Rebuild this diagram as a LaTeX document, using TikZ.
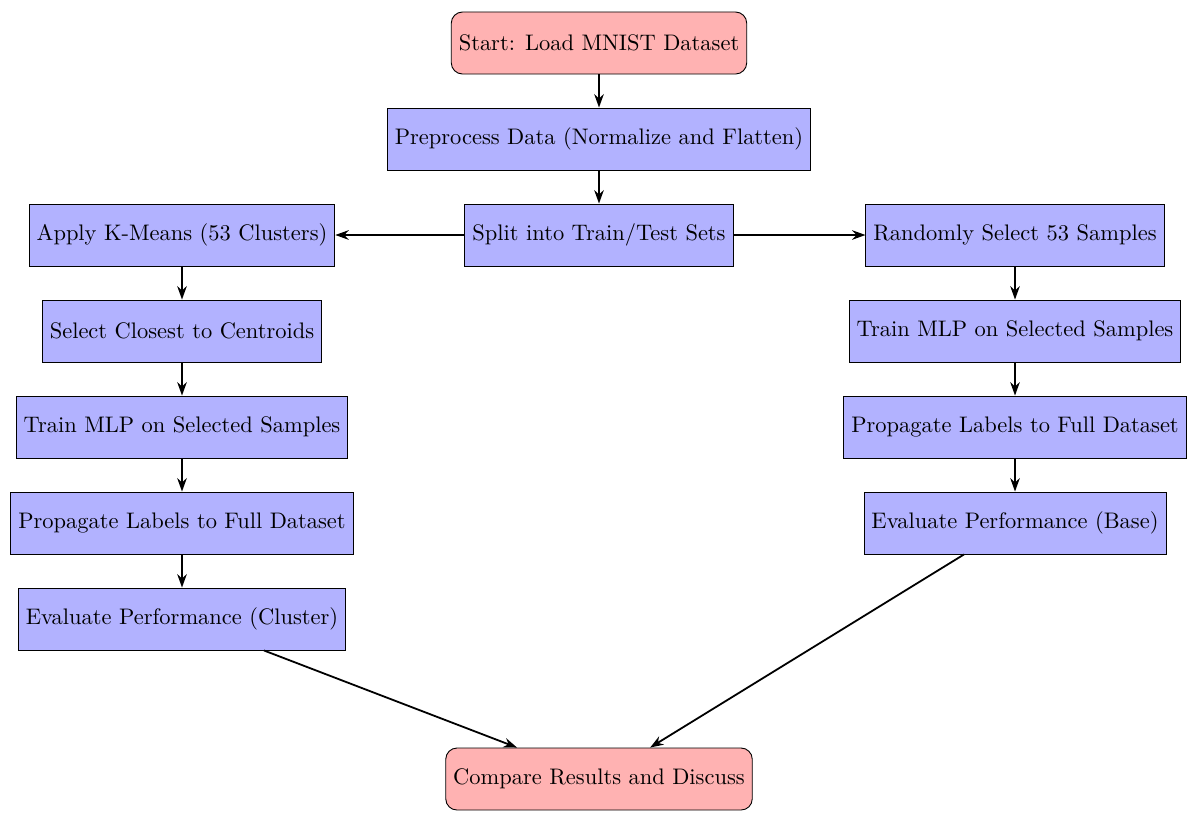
\documentclass[tikz,border=0pt]{standalone}
\usetikzlibrary{arrows.meta}
\begin{document}
\begin{tikzpicture}[x=0.445pt,y=-0.445pt,
  startstop/.style={rectangle, rounded corners=5pt, draw=black, fill=red!30, minimum height=27.6pt, align=center},
  process/.style={rectangle, draw=black, fill=blue!30, minimum height=27.6pt, align=center},
  arrow/.style={thick, -{Stealth[length=2.1mm,width=1.5mm]}}]
\useasboundingbox (0,0) rectangle (1197,825);
\node[startstop] (start) at (599,43) {Start: Load MNIST Dataset};
\node[process] (pre) at (599,139) {Preprocess Data (Normalize and Flatten)};
\node[process] (split) at (599,235) {Split into Train/Test Sets};
\node[process] (km) at (182,235) {Apply K-Means (53 Clusters)};
\node[process] (sel) at (182,331) {Select Closest to Centroids};
\node[process] (trainL) at (182,427) {Train MLP on Selected Samples};
\node[process] (propL) at (182,523) {Propagate Labels to Full Dataset};
\node[process] (evalL) at (182,619) {Evaluate Performance (Cluster)};
\node[process] (rand) at (1015,235) {Randomly Select 53 Samples};
\node[process] (trainR) at (1015,331) {Train MLP on Selected Samples};
\node[process] (propR) at (1015,427) {Propagate Labels to Full Dataset};
\node[process] (evalR) at (1015,523) {Evaluate Performance (Base)};
\node[startstop] (cmp) at (599,779) {Compare Results and Discuss};
\draw[arrow] (start) -- (pre);
\draw[arrow] (pre) -- (split);
\draw[arrow] (split) -- (km);
\draw[arrow] (split) -- (rand);
\draw[arrow] (km) -- (sel);
\draw[arrow] (sel) -- (trainL);
\draw[arrow] (trainL) -- (propL);
\draw[arrow] (propL) -- (evalL);
\draw[arrow] (rand) -- (trainR);
\draw[arrow] (trainR) -- (propR);
\draw[arrow] (propR) -- (evalR);
\draw[arrow] (evalL) -- (cmp);
\draw[arrow] (evalR) -- (cmp);
\end{tikzpicture}
\end{document}
